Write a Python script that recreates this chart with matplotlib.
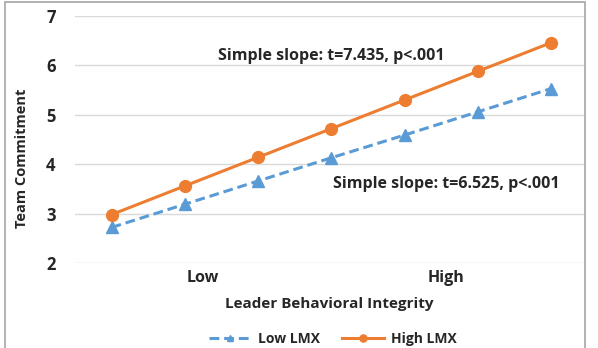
import matplotlib
matplotlib.use("Agg")
import matplotlib.pyplot as plt
from matplotlib.patches import Rectangle

plt.rcParams['font.family'] = ['Open Sans', 'DejaVu Sans']

points = [1, 2, 3, 4, 5, 6, 7]
low_lmx = [2.72, 3.19, 3.66, 4.13, 4.59, 5.06, 5.53]
high_lmx = [2.98, 3.56, 4.14, 4.72, 5.30, 5.88, 6.46]
tick_pos = [2.24, 5.57]
tick_labels = ["Low", "High"]
yticks = [2, 3, 4, 5, 6, 7]
series_names = ["Low LMX", "High LMX"]
notes = ["Simple slope: t=7.435, p<.001", "Simple slope: t=6.525, p<.001"]

blue = "#5B9BD5"
orange = "#ED7D31"
txt = "#262626"

fig = plt.figure(figsize=(5.98, 3.48), dpi=100)
fig.patches.append(Rectangle((5/598, -0.01), 580/598, 1 - 2/348 + 0.01,
                             transform=fig.transFigure, fill=False,
                             edgecolor="#A6A6A6", linewidth=1.2))

ax = fig.add_axes([75/598, 1 - 263/348, 509/598, 247/348])
ax.plot(points, low_lmx, color=blue, linestyle=(0, (3.2, 1.6)), linewidth=2.2,
        marker="^", markersize=8, label=series_names[0])
ax.plot(points, high_lmx, color=orange, linestyle="-", linewidth=2.2,
        marker="o", markersize=8.5, label=series_names[1])

ax.set_xlim(0.5, 7.45)
ax.set_ylim(2, 7)
ax.set_yticks(yticks)
ax.set_yticklabels([str(v) for v in yticks], fontsize=12, fontweight="bold", color=txt)
ax.set_xticks(tick_pos)
ax.set_xticklabels(tick_labels, fontsize=11.5, fontweight="bold", color=txt)
ax.tick_params(axis="both", length=0)
ax.tick_params(axis="y", pad=14)
ax.tick_params(axis="x", pad=5)
for s in ax.spines.values():
    s.set_visible(False)
ax.grid(axis="y", color="#D9D9D9", linewidth=1.0)
ax.set_axisbelow(True)

ax.set_xlabel("Leader Behavioral Integrity", fontsize=11, fontweight="bold",
              color=txt, labelpad=8)
ax.set_ylabel("Team Commitment", fontsize=10.5, fontweight="bold", color=txt)
ax.yaxis.set_label_coords(29/598, 1 - 158/348, transform=fig.transFigure)

ax.text(331/598, 1 - 56/348, notes[0], transform=fig.transFigure, ha="center",
        va="center", fontsize=11.5, fontweight="bold", color=txt)
ax.text(446/598, 1 - 184/348, notes[1], transform=fig.transFigure, ha="center",
        va="center", fontsize=11.5, fontweight="bold", color=txt)

leg = fig.legend(loc="center", bbox_to_anchor=(333/598, 1 - 339/348), ncol=2,
                 frameon=False, handlelength=3.0, columnspacing=1.6,
                 handletextpad=0.5, markerscale=0.6,
                 prop={"weight": "bold", "size": 10})
for t in leg.get_texts():
    t.set_color(txt)

fig.savefig("out.png", dpi=100)
